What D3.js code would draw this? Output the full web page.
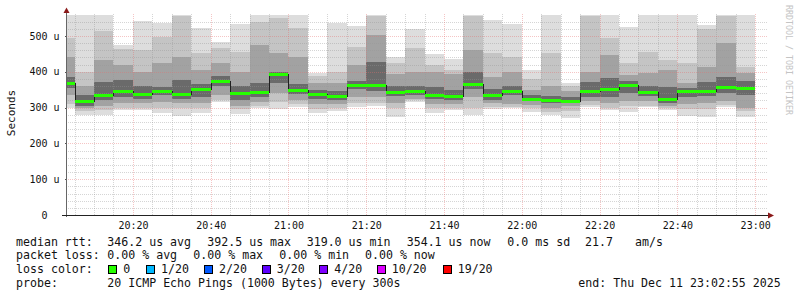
<!DOCTYPE html>
<html>
<head>
<meta charset="utf-8">
<script src="https://cdn.jsdelivr.net/npm/d3@7"></script>
<style>
    html, body { margin: 0; padding: 0; background: #fff; }
    svg { display: block; font-family: "DejaVu Sans Mono", monospace; }
</style>
</head>
<body>
<svg id="chart" width="797" height="297"></svg>
<script>
// time window of the graph (UTC so the page timezone does not matter)
const startTime = new Date(Date.UTC(2025, 11, 11, 20, 2, 55));
const endTime = new Date(Date.UTC(2025, 11, 11, 23, 2, 55));
const firstBucketEnd = new Date(Date.UTC(2025, 11, 11, 20, 5, 0));

// median rtt per 300s bucket, in microseconds
const median = [370, 319, 336, 347, 338, 345, 338, 351, 375, 342, 343, 392.5, 349, 337, 332, 364, 363, 344,
    346, 336, 333, 366, 336, 347, 325, 321, 319, 347, 351, 362, 344, 323, 345, 346, 358, 354.1];

// smoke: sorted pings reduced to four nested pairs (outer -> inner)
const smokeMax = [560, 560, 560, 475, 543, 535, 560, 521, 484, 534, 560, 560, 560, 397, 537, 528, 560, 442,
    519, 450, 435, 560, 545, 534, 405, 560, 370, 560, 560, 524, 560, 560, 560, 531, 560, 560];
const smokeMin = [300, 279, 279, 293, 293, 285, 276, 286, 316, 282, 299, 296, 302, 286, 291, 302, 304, 273,
    316, 286, 293, 279, 295, 299, 289, 279, 270, 301, 293, 289, 301, 293, 276, 273, 303, 275];
const band2Hi = [495, 400, 514, 465, 461, 498, 555, 452, 466, 456, 540, 550, 522, 388, 400, 470, 555, 424,
    466, 419, 405, 555, 452, 442, 380, 453, 360, 555, 494, 424, 456, 433, 424, 520, 555, 414];
const band2Lo = [310, 290, 293, 300, 300, 300, 300, 300, 322, 295, 305, 315, 310, 297, 300, 312, 312, 300,
    320, 298, 300, 300, 302, 302, 300, 288, 290, 308, 300, 305, 305, 300, 295, 295, 308, 290];
const band5Hi = [440, 360, 433, 419, 400, 424, 442, 405, 424, 400, 475, 452, 442, 370, 370, 420, 503, 395,
    400, 400, 395, 461, 385, 400, 350, 360, 345, 400, 447, 391, 396, 405, 368, 414, 480, 396];
const band5Lo = [335, 298, 305, 312, 312, 315, 312, 312, 335, 305, 315, 340, 322, 310, 310, 330, 330, 312,
    325, 310, 310, 330, 312, 310, 308, 300, 305, 318, 312, 318, 318, 305, 310, 312, 318, 300];
const band8Hi = [385, 335, 372, 377, 360, 358, 377, 365, 388, 360, 369, 400, 365, 350, 345, 375, 428, 360,
    360, 358, 350, 400, 352, 360, 335, 332, 330, 372, 383, 375, 360, 358, 355, 372, 386, 375];
const band8Lo = [355, 305, 322, 330, 325, 335, 325, 330, 360, 322, 330, 370, 338, 325, 322, 352, 345, 332,
    335, 325, 322, 352, 322, 335, 318, 312, 312, 330, 330, 340, 332, 312, 330, 332, 340, 335];

// axes
const yTicks = [0, 100, 200, 300, 400, 500];

// loss colour legend
const lossLabels = ['0', '1/20', '2/20', '3/20', '4/20', '10/20', '19/20'];
const lossColors = ['#26ff00', '#00b8ff', '#0059ff', '#5e00ff', '#7e00ff', '#dd00ff', '#ff0000'];

// legend text
const rttLegend = ['346.2 us avg', '392.5 us max', '319.0 us min', '354.1 us now', '0.0 ms sd', '21.7', 'am/s'];
const lossLegend = ['0.00 % avg', '0.00 % max', '0.00 % min', '0.00 % now'];
const probeText = '20 ICMP Echo Pings (1000 Bytes) every 300s';
const endText = 'end: Thu Dec 11 23:02:55 2025';

const plot = { left: 66.5, right: 766.5, top: 14.5, bottom: 215 };

const svg = d3.select('#chart');

let x = d3.scaleUtc()
    .domain([startTime, endTime])
    .range([plot.left, plot.right]);
let y = d3.scaleLinear()
    .domain([0, 560])
    .range([plot.bottom, plot.top])
    .clamp(true);

// buckets: first one is cut by the window start
let buckets = median.map((m, i) => {
    let t1 = d3.utcMinute.offset(firstBucketEnd, i * 5);
    let t0 = i === 0 ? startTime : d3.utcMinute.offset(t1, -5);
    return { i, t0, t1 };
});

// smoke bands, outer first
const bands = [
    { lo: smokeMin, hi: smokeMax, color: '#dddddd' },
    { lo: band2Lo, hi: band2Hi, color: '#c4c4c4' },
    { lo: band5Lo, hi: band5Hi, color: '#a2a2a2' },
    { lo: band8Lo, hi: band8Hi, color: '#6a6a6a' }
];

let smoke = svg.append('g').attr('shape-rendering', 'crispEdges');
bands.forEach(b => {
    smoke.append('g')
        .selectAll('rect')
        .data(buckets)
        .join('rect')
        .attr('x', d => Math.round(x(d.t0)))
        .attr('width', d => Math.round(x(d.t1)) - Math.round(x(d.t0)))
        .attr('y', d => Math.round(y(b.hi[d.i])))
        .attr('height', d => Math.round(y(b.lo[d.i])) - Math.round(y(b.hi[d.i])))
        .attr('fill', b.color);
});

// grid
let grid = svg.append('g').attr('shape-rendering', 'crispEdges');
let minorY = d3.range(20, 560, 20).filter(v => v % 100 !== 0);
let minorX = d3.utcMinute.every(5).range(firstBucketEnd, endTime).filter(t => t.getUTCMinutes() % 20 !== 0);
let majorX = d3.utcMinute.every(20).range(firstBucketEnd, endTime);
const minorColor = 'rgba(150,150,150,0.4)';
const majorColor = 'rgba(230,110,110,0.4)';

grid.selectAll('.hminor')
    .data(minorY)
    .join('line')
    .attr('x1', 66).attr('x2', 768)
    .attr('y1', d => Math.round(y(d)) + 0.5).attr('y2', d => Math.round(y(d)) + 0.5)
    .attr('stroke', minorColor)
    .attr('stroke-dasharray', '1,1');
grid.selectAll('.vminor')
    .data(minorX)
    .join('line')
    .attr('x1', d => Math.round(x(d)) + 0.5).attr('x2', d => Math.round(x(d)) + 0.5)
    .attr('y1', 215).attr('y2', 14)
    .attr('stroke', minorColor)
    .attr('stroke-dasharray', '1,1');
grid.selectAll('.hmajor')
    .data(yTicks.filter(v => v > 0))
    .join('line')
    .attr('x1', 66).attr('x2', 768)
    .attr('y1', d => Math.round(y(d)) + 0.5).attr('y2', d => Math.round(y(d)) + 0.5)
    .attr('stroke', majorColor)
    .attr('stroke-dasharray', '1,1');
grid.selectAll('.vmajor')
    .data(majorX)
    .join('line')
    .attr('x1', d => Math.round(x(d)) + 0.5).attr('x2', d => Math.round(x(d)) + 0.5)
    .attr('y1', 215).attr('y2', 14)
    .attr('stroke', majorColor)
    .attr('stroke-dasharray', '1,1');

// median: thin dark step line, then the loss coloured segments
let stepPts = [];
buckets.forEach(d => {
    stepPts.push([x(d.t0), y(median[d.i])]);
    stepPts.push([x(d.t1), y(median[d.i])]);
});
svg.append('path')
    .attr('d', d3.line()(stepPts.map(p => [Math.round(p[0]), Math.round(p[1]) + 0.5])))
    .attr('fill', 'none')
    .attr('stroke', '#202020')
    .attr('stroke-width', 1)
    .attr('shape-rendering', 'crispEdges');

svg.append('g')
    .selectAll('rect')
    .data(buckets)
    .join('rect')
    .attr('x', d => Math.round(x(d.t0)))
    .attr('width', d => Math.round(x(d.t1)) - Math.round(x(d.t0)))
    .attr('y', d => Math.round(y(median[d.i])) - 1)
    .attr('height', 3)
    .attr('fill', lossColors[0])
    .attr('shape-rendering', 'crispEdges');

// axes
let yAxis = d3.axisLeft(y)
    .tickValues(yTicks)
    .tickFormat(d => d === 0 ? '0\u00a0\u00a0' : d + ' u')
    .tickSize(2)
    .tickPadding(5);
let ay = svg.append('g')
    .attr('transform', 'translate(66.5,0)')
    .call(yAxis);
ay.select('.domain').remove();
ay.selectAll('line').attr('stroke', '#555').attr('shape-rendering', 'crispEdges');
ay.selectAll('text')
    .attr('font-family', '"DejaVu Sans Mono", monospace')
    .attr('font-size', '10px')
    .attr('fill', '#111');

let xAxis = d3.axisBottom(x)
    .tickValues(majorX)
    .tickFormat(d3.utcFormat('%H:%M'))
    .tickSize(0)
    .tickPadding(7);
let ax = svg.append('g')
    .attr('transform', 'translate(0,215)')
    .call(xAxis);
ax.select('.domain').remove();
ax.selectAll('text')
    .attr('font-family', '"DejaVu Sans Mono", monospace')
    .attr('font-size', '10px')
    .attr('fill', '#111');

// axis lines and arrows
svg.append('line')
    .attr('x1', 66.5).attr('x2', 66.5).attr('y1', 217).attr('y2', 10)
    .attr('stroke', '#666');
svg.append('line')
    .attr('x1', 62).attr('x2', 769).attr('y1', 215.5).attr('y2', 215.5)
    .attr('stroke', '#222');
svg.append('path')
    .attr('d', 'M63.5,13 L66.5,7.5 L69.5,13 Z')
    .attr('fill', '#8b1a1a');
svg.append('path')
    .attr('d', 'M768,212.5 L774,215.5 L768,218.5 Z')
    .attr('fill', '#8b1a1a');

// y title and watermark
svg.append('text')
    .attr('transform', 'translate(15,113) rotate(-90)')
    .attr('text-anchor', 'middle')
    .attr('font-size', '11px')
    .attr('fill', '#111')
    .text('Seconds');
svg.append('text')
    .attr('transform', 'translate(785.5,5) rotate(90)')
    .attr('font-size', '8.3px')
    .attr('fill', '#c4c4c4')
    .text('RRDTOOL / TOBI OETIKER');

// legend
let legend = svg.append('g')
    .attr('font-size', '11.6px')
    .attr('fill', '#111');

const rttX = [107.3, 207.3, 306.7, 406.7, 507.3, 585, 635];
const lossX = [107.3, 193.3, 279.3, 365];
const boxX = [108.3, 146, 204, 261.7, 319.3, 376.7, 442.7];

legend.append('text').attr('x', 16).attr('y', 245.5).text('median rtt:');
legend.selectAll('.rtt')
    .data(rttLegend)
    .join('text')
    .attr('x', (d, i) => rttX[i])
    .attr('y', 245.5)
    .text(d => d);

legend.append('text').attr('x', 16).attr('y', 259).text('packet loss:');
legend.selectAll('.pl')
    .data(lossLegend)
    .join('text')
    .attr('x', (d, i) => lossX[i])
    .attr('y', 259)
    .text(d => d);

legend.append('text').attr('x', 16).attr('y', 273).text('loss color:');
let items = legend.selectAll('.lc')
    .data(lossLabels)
    .join('g');
items.append('rect')
    .attr('x', (d, i) => Math.round(boxX[i]) + 0.5)
    .attr('y', 265.5)
    .attr('width', 8)
    .attr('height', 8)
    .attr('fill', (d, i) => lossColors[i])
    .attr('stroke', '#000');
items.append('text')
    .attr('x', (d, i) => boxX[i] + 15)
    .attr('y', 273)
    .text(d => d);

legend.append('text').attr('x', 16).attr('y', 286.5).text('probe:');
legend.append('text').attr('x', 107.3).attr('y', 286.5).text(probeText);
legend.append('text').attr('x', 578.3).attr('y', 286.5).text(endText);
</script>
</body>
</html>
